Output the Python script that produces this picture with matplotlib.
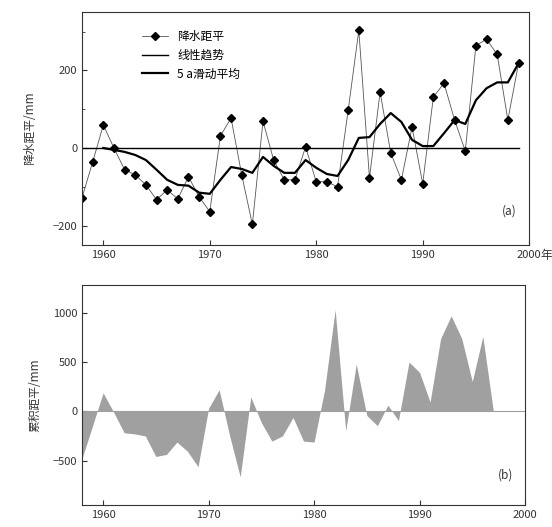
import numpy as np
import matplotlib.pyplot as plt

plt.rcParams['font.family'] = ['Noto Sans CJK SC', 'DejaVu Sans']
plt.rcParams['font.size'] = 8.5

# years 1958-1999
years = np.arange(1958, 2000)

# annual precipitation anomaly (mm)
anomaly = [-128, -36, 59, 0, -56, -69, -95, -133, -108, -131,
           -74, -126, -164, 31, 77, -69, -197, 69, -31, -82,
           -82, 3, -87, -87, -100, 97, 303, -77, 144, -13,
           -82, 54, -92, 131, 167, 72, -8, 264, 280, 241,
           72, 218]

# 5-year moving average line (starts 1960)
ma_years = np.arange(1960, 2000)
ma_vals = [0, -5, -10, -18, -31, -56, -82, -95, -97, -115,
           -118, -82, -49, -54, -64, -23, -46, -64, -64, -31,
           -51, -67, -72, -31, 26, 28, 62, 90, 67, 21,
           5, 5, 38, 72, 62, 123, 154, 169, 169, 218]

# cumulative anomaly (mm)
cum = [-478, -146, 187, -10, -218, -229, -250, -458, -437, -312,
       -406, -562, 31, 218, -250, -666, 146, -114, -302, -250,
       -62, -302, -312, 218, 1030, -198, 478, -42, -146, 62,
       -94, 499, 395, 94, 738, 967, 738, 302, 759, 0,
       0, 0]

xticks = [1960, 1970, 1980, 1990, 2000]

fig = plt.figure(figsize=(5.52, 5.27), dpi=100)

# ---- (a) anomaly
ax1 = fig.add_axes([0.1486, 0.535, 0.81, 0.442])
ax1.plot(years, anomaly, color='#555555', lw=0.6, marker='D', ms=4.5,
         mfc='black', mec='black', label='降水距平')
ax1.plot([1958, 1999], [0, 0], color='black', lw=1.0, label='线性趋势')
ax1.plot(ma_years, ma_vals, color='black', lw=1.6, label='5 a滑动平均')
ax1.set_xlim(1958, 2000)
ax1.set_ylim(-250, 350)
ax1.set_yticks([-200, 0, 200])
ax1.set_yticks([-100, 100, 300], minor=True)
ax1.set_xticks(xticks)
ax1.tick_params(direction='in', which='both', colors='#333333', labelsize=8)
ax1.set_ylabel('降水距平/mm', color='#333333', labelpad=12)
ax1.text(0.955, 0.13, '(a)', transform=ax1.transAxes, ha='center', color='#333333')
fig.text(0.99, 0.515, '年', ha='center', va='center', color='#333333')
ax1.legend(loc='upper left', bbox_to_anchor=(0.11, 0.97), frameon=False,
           handlelength=2.2, fontsize=8.5)
for s in ax1.spines.values():
    s.set_linewidth(0.8)
    s.set_color('#333333')

# ---- (b) cumulative anomaly
ax2 = fig.add_axes([0.1486, 0.0417, 0.8025, 0.4175])
ax2.fill_between(years, cum, 0, color='#a0a0a0', lw=0, interpolate=True)
ax2.axhline(0, color='#a0a0a0', lw=0.8)
ax2.set_xlim(1958, 1999.6)
ax2.set_ylim(-950, 1280)
ax2.set_yticks([-500, 0, 500, 1000])
ax2.set_xticks(xticks)
ax2.tick_params(direction='in', which='both', colors='#333333', labelsize=8)
ax2.set_ylabel('累积距平/mm', color='#333333', labelpad=8)
ax2.text(0.955, 0.12, '(b)', transform=ax2.transAxes, ha='center', color='#333333')
for s in ax2.spines.values():
    s.set_linewidth(0.8)
    s.set_color('#333333')

fig.savefig('out.png', dpi=100)
